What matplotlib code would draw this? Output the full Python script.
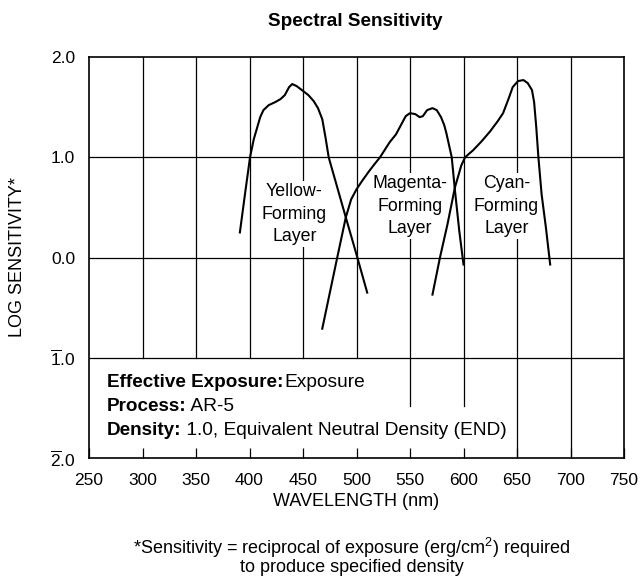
import matplotlib
matplotlib.use("Agg")
import matplotlib.pyplot as plt

plt.rcParams["font.family"] = ["Liberation Sans", "DejaVu Sans"]
plt.rcParams["mathtext.fontset"] = "custom"
plt.rcParams["mathtext.rm"] = "Liberation Sans"
plt.rcParams["mathtext.it"] = "Liberation Sans:italic"
plt.rcParams["mathtext.bf"] = "Liberation Sans:bold"

# curves (wavelength nm, log sensitivity)
yellow_nm = [391, 396, 400.5, 404, 407, 410, 413, 418, 424, 429, 433, 437, 440,
             444, 449, 455, 460, 464, 468, 471, 474, 482, 490, 500, 510]
yellow_log = [0.25, 0.65, 1.00, 1.18, 1.29, 1.40, 1.47, 1.52, 1.55, 1.58, 1.62, 1.70, 1.73,
              1.71, 1.67, 1.62, 1.56, 1.49, 1.38, 1.20, 1.00, 0.70, 0.40, 0.03, -0.35]

magenta_nm = [468, 482, 490, 495, 500, 505, 511, 516, 522, 531, 537, 542, 546, 550,
              555, 559, 562, 566, 571, 575, 579, 582, 584, 589, 592, 596, 600]
magenta_log = [-0.71, 0.00, 0.40, 0.58, 0.68, 0.76, 0.85, 0.92, 1.00, 1.15, 1.23, 1.33, 1.41, 1.44,
               1.43, 1.40, 1.41, 1.47, 1.49, 1.47, 1.40, 1.32, 1.24, 1.00, 0.67, 0.27, -0.07]

cyan_nm = [571, 578, 585, 592, 598, 601.5, 609, 617, 625, 632, 637, 642, 646, 651,
           656, 660, 664, 666, 668, 670, 673, 677, 681]
cyan_log = [-0.37, 0.00, 0.33, 0.70, 0.92, 1.00, 1.07, 1.16, 1.26, 1.36, 1.44, 1.58, 1.70, 1.76,
            1.77, 1.74, 1.67, 1.55, 1.30, 1.00, 0.63, 0.30, -0.07]

xticks = [250, 300, 350, 400, 450, 500, 550, 600, 650, 700, 750]
yticks = [2, 1, 0, -1, -2]
ytick_labels = ["2.0", "1.0", "0.0", r"$\overline{1}$.0", r"$\overline{2}$.0"]

fig = plt.figure(figsize=(6.41, 5.86), dpi=100)
ax = fig.add_axes([89 / 641, 1 - 458 / 586, (624 - 89) / 641, (458 - 57) / 586])
ax.set_xlim(250, 750)
ax.set_ylim(-2, 2)

# grid, drawn by hand because the lower band is partly open
grid_bottom = {300: -1, 350: -1, 400: -1, 450: -1, 500: -1,
               550: -1.48, 600: -1.48, 650: -2, 700: -2}
for x, yb in grid_bottom.items():
    ax.plot([x, x], [yb, 2], color="black", lw=0.9, zorder=1)
for y in [1, 0, -1]:
    ax.axhline(y, color="black", lw=0.9, zorder=1)

for xs, ys in [(yellow_nm, yellow_log), (magenta_nm, magenta_log), (cyan_nm, cyan_log)]:
    ax.plot(xs, ys, color="black", lw=1.5, zorder=3, solid_joinstyle="round")

box = dict(facecolor="white", edgecolor="none", pad=1.5)
lab = dict(ha="center", va="center", fontsize=12.8, linespacing=1.42, bbox=box, zorder=2)
ax.text(442, 0.43, "Yellow-\nForming\nLayer", **lab)
ax.text(550, 0.51, "Magenta-\nForming\nLayer", **lab)
ax.text(640, 0.51, "Cyan-\nForming\nLayer", **lab)

rows = [("Effective Exposure:", "Exposure", -1.29, 1),
        ("Process:", " AR-5", -1.535, 0),
        ("Density:", " 1.0, Equivalent Neutral Density (END)", -1.77, 0)]
for bold, rest, y, gap in rows:
    t = ax.text(266.5, y, bold, fontsize=13.6, fontweight="bold", va="baseline")
    ax.annotate(rest, xy=(1, 0), xycoords=t, xytext=(gap, 0),
                textcoords="offset points", fontsize=13.8, va="bottom", ha="left")

ax.set_xticks(xticks)
ax.set_yticks(yticks)
ax.set_yticklabels(ytick_labels)
ax.tick_params(axis="x", direction="in", length=7, width=0.9, pad=11, labelsize=12.5)
ax.tick_params(axis="y", length=0, pad=10, labelsize=12.5)
for sp in ax.spines.values():
    sp.set_linewidth(1.2)

fig.text(355 / 641, 1 - 21 / 586, "Spectral Sensitivity", ha="center", va="center",
         fontsize=13.6, fontweight="bold")
fig.text(356.5 / 641, 1 - 501 / 586, "WAVELENGTH (nm)", ha="center", va="center", fontsize=13)
fig.text(18 / 641, 1 - 257 / 586, "LOG SENSITIVITY*", ha="center", va="center",
         rotation=90, fontsize=13)
fig.text(352 / 641, 1 - 548 / 586, r"*Sensitivity = reciprocal of exposure (erg/cm$^2$) required",
         ha="center", va="center", fontsize=13)
fig.text(352 / 641, 1 - 568 / 586, "to produce specified density",
         ha="center", va="center", fontsize=13)

fig.savefig("out.png", dpi=100)
